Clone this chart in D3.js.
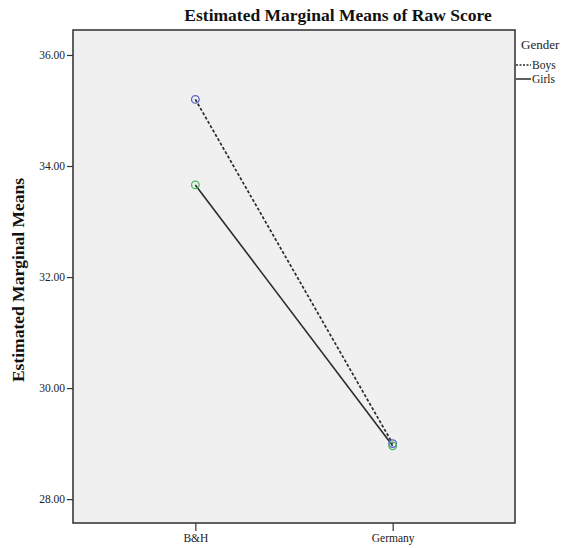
<!DOCTYPE html>
<html><head><meta charset="utf-8">
<script src="https://cdn.jsdelivr.net/npm/d3@7"></script>
<style>body{margin:0;background:#fff;}svg{display:block;}</style>
</head><body>
<svg id="chart" width="566" height="548"></svg>
<script>
const categories = ["B&H", "Germany"];
const boys = [35.20, 29.00];
const girls = [33.66, 28.96];
const yTicks = [28, 30, 32, 34, 36];
const seriesNames = ["Boys", "Girls"];

const svg = d3.select("#chart");
const pL = 73, pR = 515, pT = 30, pB = 523;
const serif = "'Liberation Serif','DejaVu Serif',serif";

const x = d3.scalePoint().domain(categories).range([pL, pR]).padding(0.62);
const y = d3.scaleLinear().domain([27.57, 36.45]).range([pB, pT]);

svg.append("rect").attr("x", pL).attr("y", pT).attr("width", pR - pL).attr("height", pB - pT)
  .attr("fill", "#f0f0f0").attr("stroke", "#3a3a3a").attr("stroke-width", 1.6);

const yAxis = svg.append("g").attr("transform", `translate(${pL},0)`)
  .call(d3.axisLeft(y).tickValues(yTicks).tickFormat(d3.format(".2f")).tickSize(6).tickPadding(2));
yAxis.select(".domain").remove();
yAxis.selectAll("line").attr("stroke", "#333").attr("stroke-width", 1.2);
yAxis.selectAll("text").attr("font-family", serif).attr("font-size", 11.5).attr("fill", "#222");

const xAxis = svg.append("g").attr("transform", `translate(0,${pB})`)
  .call(d3.axisBottom(x).tickSize(8).tickPadding(3));
xAxis.select(".domain").remove();
xAxis.selectAll("line").attr("stroke", "#333").attr("stroke-width", 1.2);
xAxis.selectAll("text").attr("font-family", serif).attr("font-size", 11.5).attr("fill", "#222");

const line = d3.line().x((d, i) => x(categories[i])).y(d => y(d));
svg.append("path").datum(boys).attr("d", line).attr("fill", "none")
  .attr("stroke", "#2a2a2a").attr("stroke-width", 1.7).attr("stroke-dasharray", "3,2");
svg.append("path").datum(girls).attr("d", line).attr("fill", "none")
  .attr("stroke", "#2a2a2a").attr("stroke-width", 1.6);

svg.selectAll(".pb").data(boys).enter().append("circle")
  .attr("cx", (d, i) => x(categories[i])).attr("cy", d => y(d)).attr("r", 3.8)
  .attr("fill", "none").attr("stroke", "#5560c8").attr("stroke-width", 1.3);
svg.selectAll(".pg").data(girls).enter().append("circle")
  .attr("cx", (d, i) => x(categories[i])).attr("cy", d => y(d)).attr("r", 3.8)
  .attr("fill", "none").attr("stroke", "#4cb860").attr("stroke-width", 1.3);

svg.append("text").attr("x", 338).attr("y", 21).attr("text-anchor", "middle")
  .attr("font-family", serif).attr("font-weight", "bold").attr("font-size", 17.5).attr("fill", "#111")
  .text("Estimated Marginal Means of Raw Score");

svg.append("text").attr("transform", "translate(24,280) rotate(-90)").attr("text-anchor", "middle")
  .attr("font-family", serif).attr("font-weight", "bold").attr("font-size", 17.5).attr("fill", "#111")
  .text("Estimated Marginal Means");

const lg = svg.append("g");
lg.append("text").attr("x", 521).attr("y", 49).attr("font-family", serif).attr("font-size", 13).attr("fill", "#222").text("Gender");
seriesNames.forEach((n, i) => {
  const yy = 65 + i * 14;
  lg.append("line").attr("x1", 516).attr("x2", 531).attr("y1", yy).attr("y2", yy)
    .attr("stroke", "#2a2a2a").attr("stroke-width", 1.5).attr("stroke-dasharray", i === 0 ? "2,1.5" : null);
  lg.append("text").attr("x", 532).attr("y", yy + 4).attr("font-family", serif).attr("font-size", 11.5)
    .attr("fill", "#222").text(n);
});
</script>
</body></html>
